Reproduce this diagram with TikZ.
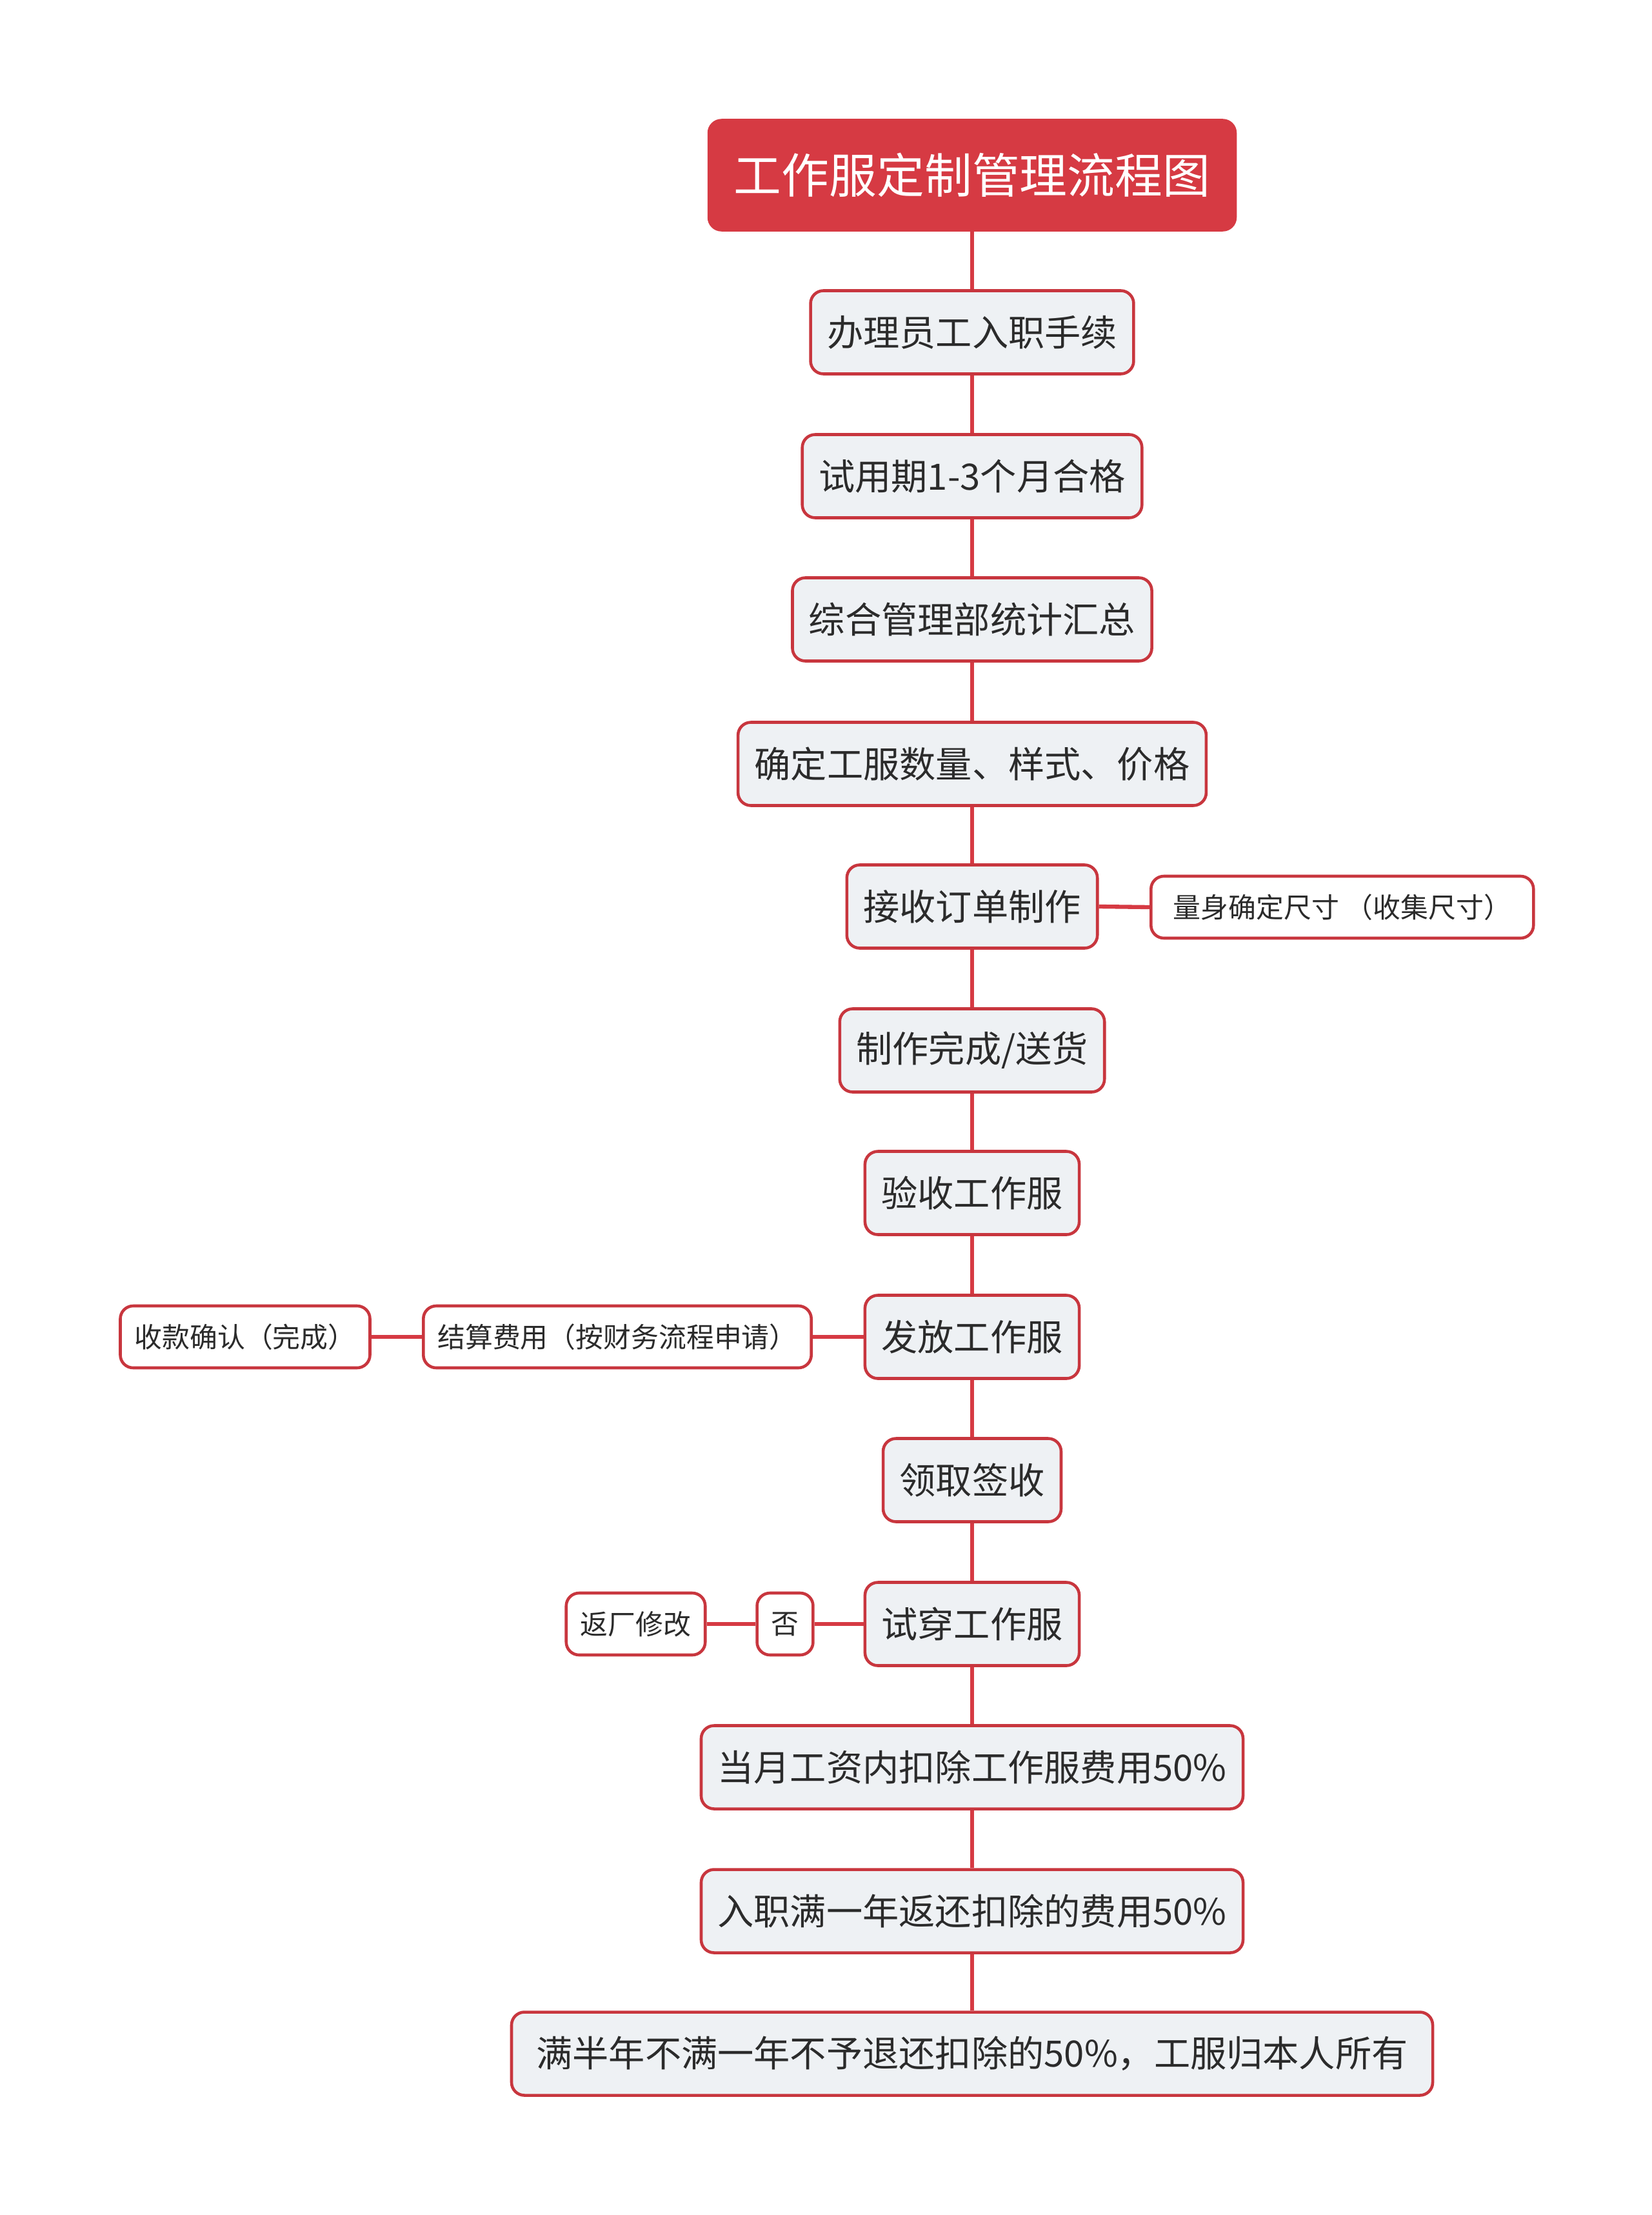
\documentclass[tikz,border=0pt]{standalone}
\usepackage{fontspec}
\setmainfont{Noto Sans CJK SC}
\definecolor{flowred}{HTML}{D63A43}
\definecolor{edgered}{HTML}{C8363E}
\definecolor{boxgray}{HTML}{EEF1F4}
\definecolor{inkgray}{HTML}{2B2B2B}
\tikzset{
  titlebox/.style={draw=flowred,fill=flowred,text=white,rounded corners=0.2cm,line width=1pt,
    minimum width=8.17cm,minimum height=1.71cm,font=\fontsize{21pt}{25pt}\selectfont},
  stepbox/.style={draw=edgered,fill=boxgray,text=inkgray,rounded corners=0.2cm,line width=1.3pt,
    inner xsep=0.255cm,minimum height=1.29cm,font=\fontsize{16pt}{19pt}\selectfont},
  sidebox/.style={draw=edgered,fill=white,text=inkgray,rounded corners=0.2cm,line width=1.3pt,
    inner xsep=0.22cm,minimum height=0.96cm,font=\fontsize{12.2pt}{15pt}\selectfont},
  link/.style={draw=flowred,line width=1.8pt}
}
\begin{document}
\begin{tikzpicture}
\useasboundingbox (0,0) rectangle (25.6,-34.33);
% main column
\node[titlebox] (title) at (15.07,-2.715) {工作服定制管理流程图};
\node[stepbox] (s1) at (15.07,-5.15) {办理员工入职手续};
\node[stepbox] (s2) at (15.07,-7.38) {试用期1-3个月合格};
\node[stepbox] (s3) at (15.07,-9.60) {综合管理部统计汇总};
\node[stepbox] (s4) at (15.07,-11.84) {确定工服数量、样式、价格};
\node[stepbox] (s5) at (15.07,-14.05) {接收订单制作};
\node[stepbox] (s6) at (15.07,-16.28) {制作完成/送货};
\node[stepbox] (s7) at (15.07,-18.49) {验收工作服};
\node[stepbox] (s8) at (15.07,-20.72) {发放工作服};
\node[stepbox] (s9) at (15.07,-22.94) {领取签收};
\node[stepbox] (s10) at (15.07,-25.17) {试穿工作服};
\node[stepbox] (s11) at (15.07,-27.39) {当月工资内扣除工作服费用50\%};
\node[stepbox] (s12) at (15.07,-29.62) {入职满一年返还扣除的费用50\%};
\node[stepbox,minimum width=14.28cm] (s13) at (15.07,-31.83) {满半年不满一年不予退还扣除的50\%，工服归本人所有};
% side branches
\node[sidebox,anchor=west,minimum width=5.93cm] (size) at (17.82,-14.06) {量身确定尺寸 （收集尺寸）};
\node[sidebox] (settle) at (9.57,-20.72) {结算费用（按财务流程申请）};
\node[sidebox] (paid) at (3.80,-20.72) {收款确认（完成）};
\node[sidebox] (no) at (12.17,-25.17) {否};
\node[sidebox] (back) at (9.855,-25.17) {返厂修改};
% connectors
\draw[link] (title) -- (s1);
\foreach \a/\b in {s1/s2,s2/s3,s3/s4,s4/s5,s5/s6,s6/s7,s7/s8,s8/s9,s9/s10,s10/s11,s11/s12,s12/s13}
  \draw[link] (\a.south) -- (\b.north);
\draw[link] (s5.east) -- (size.west);
\draw[link] (s8) -- (settle);
\draw[link] (settle) -- (paid);
\draw[link] (s10) -- (no);
\draw[link] (no) -- (back);
\end{tikzpicture}
\end{document}
